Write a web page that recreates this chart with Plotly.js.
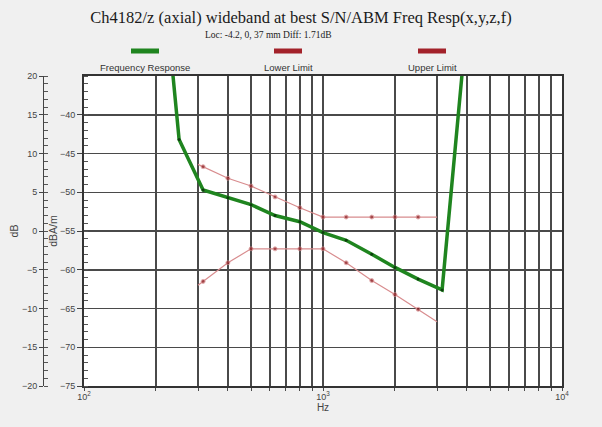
<!DOCTYPE html>
<html>
<head>
<meta charset="utf-8">
<script src="https://cdn.plot.ly/plotly-3.0.1.min.js"></script>
<style>
html,body{margin:0;padding:0;background:#f0f0f0;}
#chart{width:602px;height:427px;}
</style>
</head>
<body>
<div id="chart"></div>
<script>
// ---- data ----
const RESP_FREQ = [200, 250, 315, 400, 500, 630, 800, 1000, 1250, 1600, 2000, 2500, 3150, 4000];
const RESP_DBA  = [-12, -43.2, -49.7, -50.7, -51.6, -53.0, -53.8, -55.2, -56.2, -58.0, -59.7, -61.2, -62.6, -28];

const LIMIT_FREQ = [300, 315, 400, 500, 630, 800, 1000, 1250, 1600, 2000, 2500, 3000];
const UPPER_DBA  = [-46.4, -46.7, -48.2, -49.2, -50.6, -52.0, -53.2, -53.2, -53.2, -53.2, -53.2, -53.2];
const LOWER_DBA  = [-62.0, -61.5, -59.1, -57.3, -57.3, -57.3, -57.3, -59.1, -61.4, -63.2, -65.1, -66.7];

const SERIES_NAMES = ['Frequency Response', 'Lower Limit', 'Upper Limit'];
const X_TICK_VALS = [100, 1000, 10000];
const X_TICK_TEXT = ['10<sup>2</sup>', '10<sup>3</sup>', '10<sup>4</sup>'];
const DBA_TICKS = [-75, -70, -65, -60, -55, -50, -45, -40];
const DB_TICKS = [-20, -15, -10, -5, 0, 5, 10, 15, 20];
const TITLE = 'Ch4182/z (axial) wideband at best S/N/ABM Freq Resp(x,y,z,f)';
const SUBTITLE = 'Loc: -4.2, 0, 37 mm Diff: 1.71dB';

// ---- styling ----
const GREEN = '#1f851f';
const RED_LINE = '#d88c8e';
const RED_DOT = '#8a1a1e';
const RED_LEG = '#a3222a';
const GRID = '#4a4a4a';
const FONT = 'Liberation Sans, Arial, sans-serif';

// minor grid positions for the log axis: 2..9 x each decade
const minorX = [];
[100, 1000].forEach(d => { for (let k = 2; k <= 9; k++) minorX.push(k * d); });

const limSizes = LIMIT_FREQ.map((f, i) => (i === 0 || i === LIMIT_FREQ.length - 1) ? 0 : 4);

const traces = [
  {x: RESP_FREQ, y: RESP_DBA, name: SERIES_NAMES[0], mode: 'lines+markers',
   line: {color: GREEN, width: 3.5}, marker: {color: '#0d3d0d', size: 3}},
  {x: LIMIT_FREQ, y: LOWER_DBA, name: SERIES_NAMES[1], mode: 'lines+markers',
   line: {color: RED_LINE, width: 1.2}, marker: {color: RED_DOT, size: limSizes}},
  {x: LIMIT_FREQ, y: UPPER_DBA, name: SERIES_NAMES[2], mode: 'lines+markers',
   line: {color: RED_LINE, width: 1.2}, marker: {color: RED_DOT, size: limSizes}},
  // empty trace so the secondary dB axis is drawn
  {x: [], y: [], yaxis: 'y2', mode: 'lines', showlegend: false, hoverinfo: 'skip'}
];

// paper-coordinate helpers (margins l=20, r=40, t=76, b=41)
const L = 20, R = 40, T = 76, B = 41, W = 602, H = 427;
const pw = W - L - R, ph = H - T - B;
const px = v => (v - L) / pw;
const py = v => (H - B - v) / ph;

const legendCenters = [145, 288, 432];
const shapes = [], annotations = [];
SERIES_NAMES.forEach((n, i) => {
  const c = legendCenters[i];
  shapes.push({type: 'line', xref: 'paper', yref: 'paper',
    x0: px(c - 14), x1: px(c + 14), y0: py(51), y1: py(51),
    line: {color: i === 0 ? GREEN : RED_LEG, width: 5}});
  annotations.push({xref: 'paper', yref: 'paper', x: px(c), y: py(68),
    text: n, showarrow: false, xanchor: 'center', yanchor: 'middle',
    font: {family: FONT, size: 9.5, color: '#333'}});
});
annotations.push({xref: 'paper', yref: 'paper', x: px(268), y: py(35),
  text: SUBTITLE, showarrow: false, xanchor: 'center', yanchor: 'middle',
  font: {family: 'Liberation Serif, Times New Roman, serif', size: 9.5, color: '#222'}});

const layout = {
  width: W, height: H,
  margin: {l: L, r: R, t: T, b: B},
  paper_bgcolor: '#f0f0f0', plot_bgcolor: '#ffffff',
  showlegend: false,
  title: {text: TITLE, x: 0.5, xanchor: 'center', y: 1 - 17 / H, yanchor: 'middle',
    font: {family: 'Liberation Serif, Times New Roman, serif', size: 16.5, color: '#1a1a1a'}},
  xaxis: {type: 'log', range: [2, 4], domain: [px(84), 1],
    tickvals: X_TICK_VALS, ticktext: X_TICK_TEXT, ticks: 'outside', ticklen: 3, tickcolor: GRID,
    ticklabelstandoff: -2,
    showgrid: true, gridcolor: GRID, gridwidth: 1.5,
    minor: {tickvals: minorX, showgrid: true, gridcolor: GRID, gridwidth: 1.5, ticks: 'outside', ticklen: 3, tickcolor: GRID},
    showline: true, linecolor: '#333', linewidth: 2, mirror: true,
    zeroline: false,
    tickfont: {family: FONT, size: 9, color: '#444'},
    title: {text: 'Hz', standoff: 0, font: {family: FONT, size: 10, color: '#444'}}},
  yaxis: {range: [-75, -35], tickvals: DBA_TICKS, ticks: 'outside', ticklen: 5, tickcolor: '#444',
    showgrid: true, gridcolor: GRID, gridwidth: 1.5,
    minor: {dtick: 1, ticks: 'inside', ticklen: 4, tickcolor: '#555', showgrid: false},
    showline: true, linecolor: '#333', linewidth: 2, mirror: true,
    zeroline: false,
    tickfont: {family: FONT, size: 9, color: '#444'},
    title: {text: 'dBA/m', standoff: 0, font: {family: FONT, size: 10.5, color: '#444'}}},
  yaxis2: {range: [-20, 20], overlaying: 'y', anchor: 'free', position: px(43), side: 'left',
    tickvals: DB_TICKS, ticks: 'outside', ticklen: 4, tickcolor: '#444',
    minor: {dtick: 1, ticks: 'inside', ticklen: 4, tickcolor: '#555', showgrid: false},
    showgrid: false, zeroline: false, showline: true, linecolor: '#444', linewidth: 1,
    tickfont: {family: FONT, size: 9, color: '#444'},
    title: {text: 'dB', standoff: 0, font: {family: FONT, size: 10.5, color: '#444'}}},
  shapes: shapes,
  annotations: annotations
};

Plotly.newPlot('chart', traces, layout, {displayModeBar: false, staticPlot: true});
</script>
</body>
</html>
